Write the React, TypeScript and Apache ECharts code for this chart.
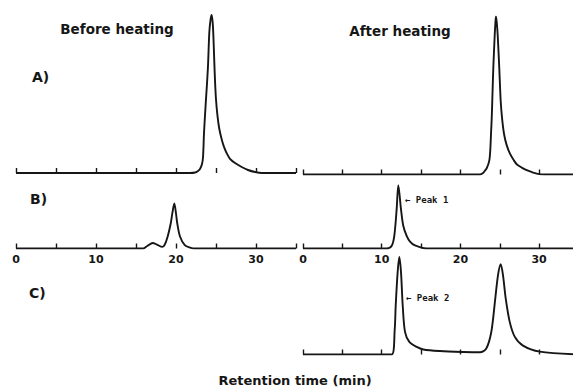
import React, { useEffect, useRef } from "react";
import * as echarts from "echarts";

// Retention time (min) / relative detector signal (% of tallest peak, row scale)
const timeABefore = [0, 21.75, 22.38, 22.75, 23.0, 23.25, 23.38, 23.5, 23.63, 23.75, 23.88, 24.0, 24.16, 24.31, 24.46, 24.59, 24.66, 24.79, 24.88, 25.0, 25.19, 25.41, 25.75, 26.0, 26.34, 26.75, 27.38, 28.21, 29.0, 29.88, 30.75, 35];
const sigABefore = [0, 0, 0.3, 1.3, 2.5, 5.7, 10.1, 25.3, 36.7, 46.8, 57.0, 67.7, 88.6, 96.8, 100, 94.9, 88.6, 70.0, 58.0, 46.5, 36.0, 28.0, 20.5, 16.5, 12.5, 9.0, 6.3, 3.8, 1.9, 0.6, 0, 0];

const timeAAfter = [0, 22.49, 22.87, 23.13, 23.38, 23.67, 23.8, 23.89, 23.98, 24.05, 24.18, 24.36, 24.45, 24.52, 24.62, 24.74, 24.94, 25.12, 25.29, 25.54, 25.86, 26.3, 26.81, 27.19, 27.79, 28.59, 29.69, 30.75, 35];
const sigAAfter = [0, 0, 0.9, 2.5, 4.4, 8.8, 15.7, 25.8, 35.8, 46.5, 67.3, 88.1, 96.2, 100, 96.2, 88.1, 67.3, 46.5, 35.8, 25.8, 18.9, 13.2, 8.8, 6.3, 4.4, 2.5, 0.6, 0, 0];

const timeBBefore = [0, 15.9, 16.4, 17.1, 17.6, 18.3, 18.6, 18.96, 19.34, 19.54, 19.79, 20.0, 20.16, 20.5, 21.1, 21.75, 22.4, 35];
const sigBBefore = [0, 0, 1.6, 3.5, 2.5, 1.0, 2.5, 7.6, 15.8, 22.2, 28.5, 22.2, 15.8, 7.6, 2.1, 0.6, 0, 0];

const timeBAfter = [0, 10.64, 11.27, 11.6, 11.9, 12.11, 12.45, 12.74, 13.17, 13.6, 14.23, 15.7, 35];
const sigBAfter = [0, 0, 1.7, 8.0, 24.9, 40.1, 24.9, 14.4, 8.0, 4.4, 1.9, 0, 0];

const timeCAfter = [0, 11.27, 11.65, 11.78, 12.03, 12.24, 12.45, 12.67, 12.96, 13.51, 14.45, 15.29, 17.4, 20.37, 22.49, 23.29, 23.93, 24.43, 24.78, 25.12, 25.41, 25.76, 26.26, 26.9, 27.95, 30.08, 35];
const sigCAfter = [0, 0, 15.5, 31.0, 52.3, 61.7, 52.3, 31.0, 14.3, 8.0, 4.8, 3.2, 2.2, 1.6, 1.4, 3.8, 14.4, 35.4, 50.3, 57.1, 50.3, 35.4, 20.8, 11.3, 5.6, 1.8, 0];

const tickValues = [0, 5, 10, 15, 20, 25, 30, 35];
const labelValues = [0, 10, 20, 30];

const panelTitles = ["Before heating", "After heating"];
const rowLabels = ["A)", "B)", "C)"];
const peakLabels = ["Peak 1", "Peak 2"];
const axisTitle = "Retention time (min)";

const INK = "#161616";
const FONT = "DejaVu Sans";

export default function App() {
  const ref = useRef<HTMLDivElement>(null);

  useEffect(() => {
    if (!ref.current) return;
    const chart = echarts.init(ref.current, undefined, { renderer: "svg" });

    const leftMax = 35;
    const rightWidth = 270;
    const rightMax = rightWidth / 7.87;

    const grids = [
      { left: 16, top: 15, width: 280, height: 158 },
      { left: 303, top: 16.5, width: rightWidth, height: 158 },
      { left: 16, top: 90.5, width: 280, height: 158 },
      { left: 303, top: 90.5, width: rightWidth, height: 158 },
      { left: 303, top: 196.5, width: rightWidth, height: 158 },
    ].map((g) => ({ ...g, containLabel: false, outerBoundsMode: "none" }));

    const isLeft = [true, false, true, false, false];
    const showLabels = [false, false, true, true, false];

    const xAxes = grids.map((_, i) => {
      const max = isLeft[i] ? leftMax : rightMax;
      return {
        type: "value",
        gridIndex: i,
        min: 0,
        max,
        interval: 5,
        axisLine: { show: false },
        splitLine: { show: false },
        axisTick: {
          show: true,
          inside: true,
          length: 5,
          customValues: tickValues.filter((v) => v <= max),
          lineStyle: { color: INK, width: 1.4 },
        },
        axisLabel: {
          show: showLabels[i],
          customValues: labelValues,
          margin: 5,
          color: INK,
          fontFamily: FONT,
          fontWeight: "bold",
          fontSize: 11,
        },
      };
    });

    const yAxes = grids.map((_, i) => ({
      type: "value",
      gridIndex: i,
      min: 0,
      max: 100,
      show: false,
    }));

    const traces = [
      [timeABefore, sigABefore],
      [timeAAfter, sigAAfter],
      [timeBBefore, sigBBefore],
      [timeBAfter, sigBAfter],
      [timeCAfter, sigCAfter],
    ];

    const series = traces.map(([t, s], i) => ({
      type: "line",
      xAxisIndex: i,
      yAxisIndex: i,
      data: t.map((x, k) => [x, s[k]]),
      showSymbol: false,
      smooth: 0.3,
      lineStyle: { color: INK, width: 1.9 },
    }));

    const txt = (text: string, x: number, y: number, size: number, family = FONT, align = "center") => ({
      type: "text",
      x,
      y,
      silent: true,
      style: {
        text,
        fill: INK,
        fontSize: size,
        fontFamily: family,
        fontWeight: "bold",
        textAlign: align,
        align,
        textVerticalAlign: "middle",
        verticalAlign: "middle",
      },
    });

    const graphic = [
      txt(panelTitles[0], 117, 29, 13.5),
      txt(panelTitles[1], 400, 31, 13.5),
      txt(rowLabels[0], 32, 77, 14, FONT, "left"),
      txt(rowLabels[1], 30, 199, 14, FONT, "left"),
      txt(rowLabels[2], 29, 293, 14, FONT, "left"),
      txt("\u2190 " + peakLabels[0], 405, 200, 9, "DejaVu Sans Mono", "left"),
      txt("\u2190 " + peakLabels[1], 406, 298, 9, "DejaVu Sans Mono", "left"),
      txt(axisTitle, 295, 380, 13),
    ];

    chart.setOption({
      animation: false,
      backgroundColor: "#ffffff",
      grid: grids,
      xAxis: xAxes,
      yAxis: yAxes,
      series,
      graphic,
    } as any);

    return () => chart.dispose();
  }, []);

  return (
    <div
      ref={ref}
      style={{ position: "absolute", left: 0, top: 0, width: 573, height: 390 }}
    />
  );
}
